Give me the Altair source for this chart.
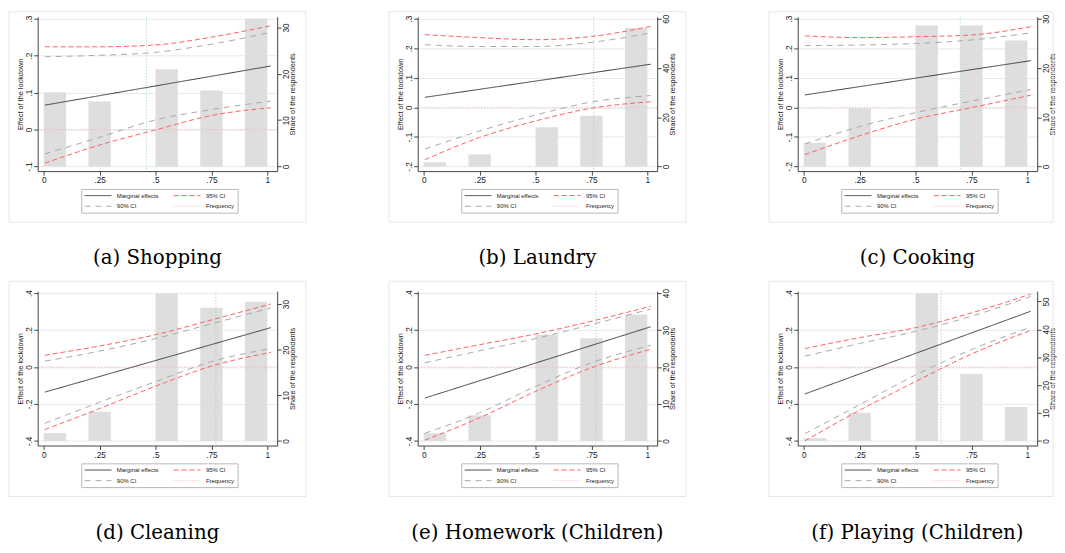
import altair as alt
import pandas as pd

# ---------------- data ----------------
bar_left = [0.0, 0.2, 0.5, 0.7, 0.9]
bar_right = [0.1, 0.3, 0.6, 0.8, 1.0]
ci_x = [0.005, 0.25, 0.5, 0.75, 1.015]
me_x = [0.005, 1.015]
x_ticks = [0, 0.25, 0.5, 0.75, 1]
# legend is laid out column by column: (ME, 90% CI) then (95% CI, Frequency)
series_names = ["Marginal effects", "90% CI", "95% CI", "Frequency"]

titles = ["(a) Shopping", "(b) Laundry", "(c) Cooking", "(d) Cleaning",
          "(e) Homework (Children)", "(f) Playing (Children)"]

share_a = [16.0, 14.0, 21.0, 16.4, 31.9]
me_a = [0.066, 0.172]
ci95_hi_a = [0.224, 0.224, 0.229, 0.250, 0.281]
ci95_lo_a = [-0.091, -0.042, -0.001, 0.038, 0.059]
ci90_hi_a = [0.197, 0.201, 0.209, 0.231, 0.263]
ci90_lo_a = [-0.066, -0.021, 0.026, 0.054, 0.077]
mean_a = 0.46
lticks_a = [-0.1, 0, 0.1, 0.2, 0.3]
rticks_a = [0, 10, 20, 30]

share_b = [1.7, 4.9, 15.9, 20.6, 56.2]
me_b = [0.034, 0.146]
ci95_hi_b = [0.246, 0.236, 0.229, 0.240, 0.274]
ci95_lo_b = [-0.177, -0.102, -0.046, -0.003, 0.019]
ci90_hi_b = [0.212, 0.206, 0.206, 0.220, 0.252]
ci90_lo_b = [-0.141, -0.080, -0.026, 0.018, 0.040]
mean_b = 0.76
lticks_b = [-0.2, -0.1, 0, 0.1, 0.2, 0.3]
rticks_b = [0, 20, 40, 60]

share_c = [4.8, 11.8, 28.6, 28.6, 25.6]
me_c = [0.042, 0.158]
ci95_hi_c = [0.242, 0.236, 0.239, 0.245, 0.273]
ci95_lo_c = [-0.160, -0.096, -0.040, -0.001, 0.041]
ci90_hi_c = [0.209, 0.211, 0.216, 0.228, 0.252]
ci90_lo_c = [-0.124, -0.065, -0.018, 0.021, 0.060]
mean_c = 0.70
lticks_c = [-0.2, -0.1, 0, 0.1, 0.2, 0.3]
rticks_c = [0, 10, 20, 30]

share_d = [1.7, 6.4, 32.4, 29.2, 30.5]
me_d = [-0.136, 0.213]
ci95_hi_d = [0.064, 0.114, 0.175, 0.255, 0.341]
ci95_lo_d = [-0.339, -0.225, -0.104, 0.005, 0.079]
ci90_hi_d = [0.032, 0.086, 0.154, 0.234, 0.320]
ci90_lo_d = [-0.305, -0.191, -0.079, 0.029, 0.100]
mean_d = 0.77
lticks_d = [-0.4, -0.2, 0, 0.2, 0.4]
rticks_d = [0, 10, 20, 30]

share_e = [2.1, 6.9, 28.8, 27.8, 34.2]
me_e = [-0.168, 0.218]
ci95_hi_e = [0.063, 0.121, 0.179, 0.248, 0.329]
ci95_lo_e = [-0.396, -0.275, -0.132, -0.004, 0.096]
ci90_hi_e = [0.023, 0.088, 0.154, 0.230, 0.314]
ci90_lo_e = [-0.359, -0.248, -0.105, 0.023, 0.118]
mean_e = 0.77
lticks_e = [-0.4, -0.2, 0, 0.2, 0.4]
rticks_e = [0, 10, 20, 30, 40]

share_f = [1.0, 10.1, 53.0, 24.0, 12.2]
me_f = [-0.146, 0.302]
ci95_hi_f = [0.100, 0.159, 0.213, 0.293, 0.395]
ci95_lo_f = [-0.400, -0.234, -0.079, 0.070, 0.198]
ci90_hi_f = [0.059, 0.127, 0.193, 0.275, 0.382]
ci90_lo_f = [-0.361, -0.204, -0.043, 0.095, 0.216]
mean_f = 0.615
lticks_f = [-0.4, -0.2, 0, 0.2, 0.4]
rticks_f = [0, 10, 20, 30, 40, 50]

# ---------------- style ----------------
FONT = "Liberation Sans"
PLOT_W, PLOT_H = 242, 156
TOP_M, BOT_M = 2.0, 4.7
TICK_SPAN = PLOT_H - TOP_M - BOT_M
X_DOM = [-0.027, 1.044]
AX_COL = "#444444"
TXT_COL = "#1a1a1a"
GRID_COL = "#e3eaee"
BAR_COL = "#dedede"
BOX_COL = "#e6e6e6"
VLINE_COL = "#9dd69d"
COLORS = ["#3a3a3a", "#a8a8a8", "#ff5f5f", "#f5b0b0"]
DASHES = [[1, 0], [6, 5], [5, 3], [1, 2]]

fmt = ("datum.value == 0 ? '0' : (datum.value < 0 ? '-' : '') + "
       "replace(toString(abs(datum.value)), '0.', '.')")

xscale = alt.Scale(domain=X_DOM, nice=False, zero=False)
xaxis = alt.Axis(values=x_ticks, title=None, grid=False, labelExpr=fmt,
                 labelFont=FONT, labelFontSize=8.4, labelColor=TXT_COL,
                 tickSize=4, tickColor=AX_COL, domainColor=AX_COL,
                 labelPadding=1, labelAngle=0, labelFlush=False,
                 labelOverlap=False)
color_scale = alt.Scale(domain=series_names, range=COLORS)
dash_scale = alt.Scale(domain=series_names, range=DASHES)


def make_legend():
    return alt.Legend(orient="none", legendX=44, legendY=174, columns=2,
                      title=None, symbolType="M-1,0H8", symbolSize=36,
                      symbolStrokeWidth=1, labelOffset=26, labelFont=FONT,
                      labelFontSize=6, labelColor=TXT_COL, columnPadding=12,
                      rowPadding=4, padding=3, strokeColor="#b8b8b8",
                      fillColor="white")


def make_panel(idx, title, share, me, hi95, lo95, hi90, lo90, mean,
               lticks, rticks):
    col = idx % 3
    row = idx // 3
    rows = []
    for xv, yv in zip(me_x, me):
        rows.append(dict(x=xv, y=yv, series="Marginal effects", line="me"))
    for name, ser, vals in [("h95", "95% CI", hi95), ("l95", "95% CI", lo95),
                            ("h90", "90% CI", hi90), ("l90", "90% CI", lo90)]:
        for xv, yv in zip(ci_x, vals):
            rows.append(dict(x=xv, y=yv, series=ser, line=name))
    df_lines = pd.DataFrame(rows)
    df_bars = pd.DataFrame({"x0": bar_left, "x1": bar_right, "share": share})

    lb, lt = min(lticks), max(lticks)
    span = lt - lb
    left_dom = [lb - span * BOT_M / TICK_SPAN, lt + span * TOP_M / TICK_SPAN]
    R = max(max(rticks), max(share))
    right_dom = [-R * BOT_M / TICK_SPAN, R + R * TOP_M / TICK_SPAN]

    left_scale = alt.Scale(domain=left_dom, nice=False, zero=False)
    right_scale = alt.Scale(domain=right_dom, nice=False, zero=False)
    left_axis = alt.Axis(orient="left", values=lticks, title="Effect of the lockdown",
                         labelExpr=fmt, labelAngle=270, titleAngle=270,
                         grid=True, gridColor=GRID_COL, gridWidth=1,
                         labelFont=FONT, labelFontSize=8.4, labelColor=TXT_COL,
                         titleFont=FONT, titleFontSize=7.4, titleColor=TXT_COL,
                         titleFontWeight="normal",
                         titleX=-17.7, titleY=PLOT_H / 2, titleAlign="center",
                         titleBaseline="middle",
                         tickSize=4, tickColor=AX_COL, domainColor=AX_COL,
                         labelPadding=0, labelOverlap=False, labelFlush=False)
    right_axis = alt.Axis(orient="right", values=rticks,
                          title="Share of the respondents",
                          labelAngle=270, titleAngle=270, grid=False,
                          labelFont=FONT, labelFontSize=8.4, labelColor=TXT_COL,
                          titleFont=FONT, titleFontSize=7.4, titleColor=TXT_COL,
                          titleFontWeight="normal",
                          titleX=15.8, titleY=PLOT_H / 2, titleAlign="center",
                          titleBaseline="middle",
                          tickSize=4, tickColor=AX_COL, domainColor=AX_COL,
                          labelPadding=0, labelOverlap=False, labelFlush=False)

    one = pd.DataFrame({"k": [0]})
    box_top = -5 if row == 0 else -10
    box_right = 271 if col < 2 else 258
    box = alt.Chart(one).mark_rect(fillOpacity=0, stroke=BOX_COL, strokeWidth=1).encode(
        x=alt.value(-29), x2=alt.value(box_right),
        y=alt.value(box_top), y2=alt.value(207.5))

    bars = alt.Chart(df_bars).mark_bar(color=BAR_COL).encode(
        x=alt.X("x0:Q", scale=xscale, axis=xaxis),
        x2="x1:Q",
        y=alt.Y("share:Q", scale=right_scale, axis=right_axis),
        y2=alt.datum(0),
    )

    vline = alt.Chart(pd.DataFrame({"m": [mean]})).mark_rule(
        color=VLINE_COL, strokeDash=[1, 2], strokeWidth=1).encode(
        x=alt.X("m:Q", scale=xscale, axis=xaxis))

    zero = alt.Chart(one).mark_rule(strokeWidth=1).encode(
        y=alt.YDatum(0, scale=left_scale, axis=left_axis),
        color=alt.ColorDatum("Frequency", type="nominal"),
        strokeDash=alt.StrokeDashDatum("Frequency", type="nominal"),
    )

    lines = alt.Chart(df_lines).mark_line(strokeWidth=1, interpolate="monotone").encode(
        x=alt.X("x:Q", scale=xscale, axis=xaxis),
        y=alt.Y("y:Q", scale=left_scale, axis=left_axis),
        color=alt.Color("series:N", scale=color_scale, legend=make_legend()),
        strokeDash=alt.StrokeDash("series:N", scale=dash_scale, legend=make_legend()),
        detail="line:N",
    )

    inner = alt.layer(zero, lines)
    panel = alt.layer(box, bars, vline, inner).resolve_scale(y="independent").properties(
        width=PLOT_W, height=PLOT_H,
        title=alt.TitleParams(text=title, orient="bottom", anchor="middle",
                              frame="group", font="DejaVu Serif", fontSize=20,
                              fontWeight="normal", color="black", offset=26))
    return panel


panel_data = [
    (share_a, me_a, ci95_hi_a, ci95_lo_a, ci90_hi_a, ci90_lo_a, mean_a, lticks_a, rticks_a),
    (share_b, me_b, ci95_hi_b, ci95_lo_b, ci90_hi_b, ci90_lo_b, mean_b, lticks_b, rticks_b),
    (share_c, me_c, ci95_hi_c, ci95_lo_c, ci90_hi_c, ci90_lo_c, mean_c, lticks_c, rticks_c),
    (share_d, me_d, ci95_hi_d, ci95_lo_d, ci90_hi_d, ci90_lo_d, mean_d, lticks_d, rticks_d),
    (share_e, me_e, ci95_hi_e, ci95_lo_e, ci90_hi_e, ci90_lo_e, mean_e, lticks_e, rticks_e),
    (share_f, me_f, ci95_hi_f, ci95_lo_f, ci90_hi_f, ci90_lo_f, mean_f, lticks_f, rticks_f),
]

panels = [make_panel(i, titles[i], *pdata) for i, pdata in enumerate(panel_data)]

chart = alt.concat(*panels, columns=3, bounds="flush",
                   spacing=alt.RowColnumber(row=121.3, column=142)).resolve_scale(
    color="independent", strokeDash="independent").properties(
    padding=0, background="white").configure_view(stroke=None)

chart.save("out.html", embed_options={"renderer": "svg", "actions": False})
